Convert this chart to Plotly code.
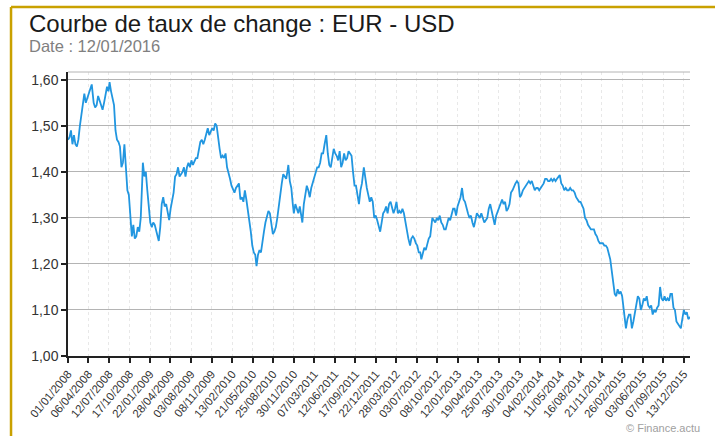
import plotly.graph_objects as go

dates = [
"2008-01-01","2008-01-08","2008-01-15","2008-01-22","2008-01-29","2008-02-05","2008-02-12","2008-02-19","2008-02-26",
"2008-03-04","2008-03-11","2008-03-18","2008-03-25","2008-04-01","2008-04-08","2008-04-15","2008-04-22","2008-05-01",
"2008-05-08","2008-05-15","2008-05-22","2008-05-29","2008-06-05","2008-06-12","2008-06-19","2008-06-26","2008-07-03",
"2008-07-10","2008-07-15","2008-07-22","2008-07-29","2008-08-05","2008-08-12","2008-08-19","2008-08-26","2008-09-02",
"2008-09-09","2008-09-16","2008-09-23","2008-09-30","2008-10-07","2008-10-14","2008-10-21","2008-10-28","2008-11-04",
"2008-11-11","2008-11-18","2008-11-25","2008-12-02","2008-12-09","2008-12-16","2008-12-19","2008-12-26",
"2009-01-02","2009-01-09","2009-01-16","2009-01-23","2009-01-30","2009-02-06","2009-02-13","2009-02-20","2009-02-27",
"2009-03-04","2009-03-11","2009-03-18","2009-03-25","2009-04-01","2009-04-08","2009-04-15","2009-04-22","2009-04-29",
"2009-05-06","2009-05-13","2009-05-20","2009-05-27","2009-06-03","2009-06-10","2009-06-17","2009-06-24","2009-07-01",
"2009-07-08","2009-07-15","2009-07-22","2009-07-29","2009-08-05","2009-08-12","2009-08-19","2009-08-26","2009-09-02",
"2009-09-09","2009-09-16","2009-09-23","2009-09-30","2009-10-07","2009-10-14","2009-10-21","2009-10-28","2009-11-04",
"2009-11-11","2009-11-18","2009-11-25","2009-12-02","2009-12-09","2009-12-16","2009-12-23","2009-12-30",
"2010-01-06","2010-01-13","2010-01-20","2010-01-27","2010-02-03","2010-02-10","2010-02-17","2010-02-24","2010-03-03",
"2010-03-10","2010-03-17","2010-03-24","2010-03-31","2010-04-07","2010-04-14","2010-04-21","2010-04-28","2010-05-05",
"2010-05-12","2010-05-19","2010-05-26","2010-06-02","2010-06-08","2010-06-15","2010-06-22","2010-06-29","2010-07-06",
"2010-07-13","2010-07-20","2010-07-27","2010-08-03","2010-08-10","2010-08-17","2010-08-24","2010-08-31","2010-09-07",
"2010-09-14","2010-09-21","2010-09-28","2010-10-05","2010-10-12","2010-10-19","2010-10-26","2010-11-02","2010-11-05",
"2010-11-12","2010-11-19","2010-11-26","2010-12-01","2010-12-08","2010-12-15","2010-12-22","2010-12-29",
"2011-01-05","2011-01-10","2011-01-17","2011-01-24","2011-01-31","2011-02-07","2011-02-14","2011-02-21","2011-02-28",
"2011-03-07","2011-03-14","2011-03-21","2011-03-28","2011-04-04","2011-04-11","2011-04-18","2011-04-25","2011-05-03",
"2011-05-10","2011-05-17","2011-05-24","2011-05-31","2011-06-07","2011-06-14","2011-06-21","2011-06-28","2011-07-05",
"2011-07-12","2011-07-19","2011-07-26","2011-08-02","2011-08-09","2011-08-16","2011-08-23","2011-08-30","2011-09-06",
"2011-09-13","2011-09-20","2011-09-27","2011-10-04","2011-10-11","2011-10-18","2011-10-27","2011-11-03","2011-11-10",
"2011-11-17","2011-11-24","2011-12-01","2011-12-08","2011-12-15","2011-12-22","2011-12-29",
"2012-01-05","2012-01-12","2012-01-19","2012-01-26","2012-02-02","2012-02-09","2012-02-16","2012-02-23","2012-03-01",
"2012-03-08","2012-03-15","2012-03-22","2012-03-29","2012-04-05","2012-04-12","2012-04-19","2012-04-26","2012-05-03",
"2012-05-10","2012-05-17","2012-05-24","2012-06-01","2012-06-07","2012-06-14","2012-06-21","2012-06-28","2012-07-05",
"2012-07-12","2012-07-19","2012-07-24","2012-07-31","2012-08-07","2012-08-14","2012-08-21","2012-08-28","2012-09-04",
"2012-09-11","2012-09-14","2012-09-21","2012-09-28","2012-10-05","2012-10-12","2012-10-19","2012-10-26","2012-11-02",
"2012-11-09","2012-11-16","2012-11-23","2012-11-30","2012-12-07","2012-12-14","2012-12-21","2012-12-28",
"2013-01-04","2013-01-11","2013-01-18","2013-01-25","2013-02-01","2013-02-08","2013-02-15","2013-02-22","2013-03-01",
"2013-03-08","2013-03-15","2013-03-22","2013-03-29","2013-04-05","2013-04-12","2013-04-19","2013-04-26","2013-05-03",
"2013-05-10","2013-05-17","2013-05-24","2013-05-31","2013-06-07","2013-06-14","2013-06-21","2013-06-28","2013-07-05",
"2013-07-12","2013-07-19","2013-07-26","2013-08-02","2013-08-09","2013-08-16","2013-08-23","2013-08-30","2013-09-06",
"2013-09-13","2013-09-20","2013-09-27","2013-10-04","2013-10-11","2013-10-18","2013-10-25","2013-11-01","2013-11-08",
"2013-11-15","2013-11-22","2013-11-29","2013-12-06","2013-12-13","2013-12-20","2013-12-27",
"2014-01-03","2014-01-10","2014-01-17","2014-01-24","2014-01-31","2014-02-07","2014-02-14","2014-02-21","2014-02-28",
"2014-03-07","2014-03-14","2014-03-21","2014-03-28","2014-04-04","2014-04-11","2014-04-18","2014-04-25","2014-05-02",
"2014-05-08","2014-05-15","2014-05-22","2014-05-29","2014-06-05","2014-06-12","2014-06-19","2014-06-26","2014-07-03",
"2014-07-10","2014-07-17","2014-07-24","2014-07-31","2014-08-07","2014-08-14","2014-08-21","2014-08-28","2014-09-04",
"2014-09-11","2014-09-18","2014-09-25","2014-10-02","2014-10-09","2014-10-16","2014-10-23","2014-10-30","2014-11-06",
"2014-11-13","2014-11-20","2014-11-27","2014-12-04","2014-12-11","2014-12-18","2014-12-25",
"2015-01-01","2015-01-08","2015-01-15","2015-01-22","2015-01-29","2015-02-05","2015-02-12","2015-02-19","2015-02-26",
"2015-03-05","2015-03-12","2015-03-16","2015-03-23","2015-03-30","2015-04-06","2015-04-13","2015-04-20","2015-04-27",
"2015-05-04","2015-05-11","2015-05-18","2015-05-25","2015-06-01","2015-06-08","2015-06-15","2015-06-22","2015-06-29",
"2015-07-06","2015-07-13","2015-07-20","2015-07-27","2015-08-03","2015-08-10","2015-08-17","2015-08-24","2015-08-31",
"2015-09-07","2015-09-14","2015-09-21","2015-09-28","2015-10-05","2015-10-12","2015-10-19","2015-10-26","2015-11-02",
"2015-11-09","2015-11-16","2015-11-23","2015-11-30","2015-12-03","2015-12-07","2015-12-14","2015-12-21","2015-12-28",
"2016-01-04","2016-01-12",
]

eur_usd = [
1.47,1.475,1.49,1.46,1.48,1.46,1.455,1.47,1.50,
1.52,1.54,1.57,1.55,1.56,1.575,1.58,1.59,1.55,
1.54,1.545,1.565,1.555,1.545,1.535,1.55,1.57,1.585,
1.575,1.595,1.575,1.56,1.545,1.49,1.47,1.465,1.455,
1.41,1.42,1.46,1.40,1.36,1.35,1.30,1.26,1.285,
1.255,1.26,1.28,1.27,1.30,1.38,1.42,1.39,
1.40,1.36,1.32,1.29,1.28,1.29,1.285,1.27,1.26,
1.25,1.28,1.33,1.345,1.325,1.33,1.31,1.295,1.32,
1.335,1.355,1.39,1.395,1.41,1.39,1.395,1.40,1.41,
1.39,1.41,1.42,1.41,1.425,1.415,1.425,1.43,1.43,
1.45,1.465,1.47,1.46,1.47,1.485,1.495,1.48,1.49,
1.495,1.49,1.505,1.50,1.47,1.45,1.43,1.435,
1.43,1.44,1.41,1.40,1.385,1.37,1.36,1.355,1.365,
1.37,1.375,1.34,1.345,1.335,1.36,1.34,1.32,1.30,
1.27,1.24,1.225,1.22,1.195,1.22,1.23,1.225,1.255,
1.27,1.29,1.30,1.315,1.31,1.285,1.265,1.27,1.28,
1.30,1.33,1.36,1.375,1.395,1.39,1.385,1.405,1.415,
1.38,1.365,1.33,1.31,1.33,1.32,1.31,1.325,
1.30,1.29,1.33,1.355,1.37,1.36,1.345,1.365,1.375,
1.39,1.40,1.41,1.41,1.42,1.44,1.44,1.46,1.48,
1.44,1.415,1.41,1.43,1.45,1.44,1.435,1.425,1.445,
1.41,1.42,1.44,1.425,1.43,1.445,1.44,1.435,1.40,
1.37,1.37,1.345,1.33,1.36,1.375,1.41,1.38,1.365,
1.35,1.335,1.345,1.335,1.30,1.305,1.295,
1.28,1.27,1.29,1.31,1.315,1.325,1.31,1.33,1.335,
1.32,1.31,1.32,1.335,1.31,1.315,1.31,1.32,1.31,
1.29,1.27,1.255,1.24,1.255,1.26,1.255,1.245,1.24,
1.225,1.225,1.21,1.225,1.235,1.23,1.245,1.255,1.26,
1.285,1.30,1.295,1.29,1.30,1.295,1.305,1.29,1.285,
1.275,1.275,1.29,1.30,1.295,1.31,1.32,1.32,
1.305,1.325,1.335,1.345,1.365,1.34,1.335,1.32,1.31,
1.30,1.305,1.29,1.28,1.295,1.31,1.305,1.30,1.31,
1.30,1.29,1.295,1.30,1.32,1.33,1.315,1.30,1.285,
1.305,1.315,1.325,1.335,1.34,1.33,1.335,1.315,1.32,
1.33,1.355,1.36,1.37,1.375,1.38,1.375,1.345,1.35,
1.36,1.365,1.37,1.375,1.38,1.375,1.38,
1.37,1.36,1.365,1.365,1.36,1.365,1.37,1.375,1.385,
1.385,1.38,1.38,1.385,1.38,1.385,1.38,1.385,1.39,
1.393,1.375,1.37,1.36,1.365,1.36,1.36,1.365,1.36,
1.36,1.355,1.345,1.34,1.335,1.335,1.325,1.32,1.30,
1.295,1.285,1.28,1.275,1.275,1.275,1.265,1.26,1.25,
1.245,1.245,1.245,1.24,1.24,1.235,1.225,
1.21,1.185,1.16,1.135,1.13,1.145,1.135,1.14,1.13,
1.10,1.065,1.06,1.08,1.09,1.09,1.06,1.075,1.095,
1.115,1.13,1.125,1.10,1.11,1.125,1.12,1.13,1.11,
1.105,1.11,1.09,1.10,1.095,1.105,1.11,1.15,1.125,
1.12,1.13,1.12,1.125,1.12,1.135,1.135,1.105,1.10,
1.075,1.07,1.065,1.06,1.07,1.085,1.10,1.09,1.095,
1.08,1.085,
]

tick_dates = [
"2008-01-01","2008-04-06","2008-07-12","2008-10-17","2009-01-22","2009-04-28","2009-08-03","2009-11-08",
"2010-02-13","2010-05-21","2010-08-25","2010-11-30","2011-03-07","2011-06-12","2011-09-17","2011-12-22",
"2012-03-28","2012-07-03","2012-10-08","2013-01-12","2013-04-19","2013-07-25","2013-10-30","2014-02-04",
"2014-05-11","2014-08-16","2014-11-21","2015-02-26","2015-06-03","2015-09-07","2015-12-13",
]
tick_labels = [
"01/01/2008","06/04/2008","12/07/2008","17/10/2008","22/01/2009","28/04/2009","03/08/2009","08/11/2009",
"13/02/2010","21/05/2010","25/08/2010","30/11/2010","07/03/2011","12/06/2011","17/09/2011","22/12/2011",
"28/03/2012","03/07/2012","08/10/2012","12/01/2013","19/04/2013","25/07/2013","30/10/2013","04/02/2014",
"11/05/2014","16/08/2014","21/11/2014","26/02/2015","03/06/2015","07/09/2015","13/12/2015",
]
y_ticks = [1.00, 1.10, 1.20, 1.30, 1.40, 1.50, 1.60]

FONT = "Liberation Sans, Arial, sans-serif"

fig = go.Figure()
fig.add_trace(go.Scatter(
    x=dates, y=eur_usd, mode="lines",
    line=dict(color="#2196e0", width=1.8),
    hoverinfo="x+y", showlegend=False,
))

gold = "#c9a100"
fig.update_layout(
    width=715, height=436,
    margin=dict(l=68, r=25, t=72, b=80),
    paper_bgcolor="white", plot_bgcolor="white",
    separators=", ",
    font=dict(family=FONT, color="#333"),
    showlegend=False,
    xaxis=dict(
        type="date", range=["2008-01-01", "2016-01-12"],
        tickvals=tick_dates, ticktext=tick_labels, tickangle=-50,
        tickfont=dict(size=11.5, color="#333"),
        ticks="outside", ticklen=5, tickcolor="#222", tickwidth=1.5,
        showline=True, linecolor="#222", linewidth=1.5,
        showgrid=True, gridcolor="#e8e8e8", griddash="dot", gridwidth=1,
        zeroline=False, fixedrange=True,
    ),
    yaxis=dict(
        range=[1.00, 1.617], tickvals=y_ticks, tickformat=".2f",
        tickfont=dict(size=14, color="#333"),
        ticks="outside", ticklen=5, tickcolor="#222", tickwidth=1.5,
        showline=True, linecolor="#222", linewidth=1.5,
        showgrid=True, gridcolor="#b4b4b4", gridwidth=1,
        zeroline=False, fixedrange=True,
    ),
    shapes=[
        dict(type="line", xref="paper", yref="paper", x0=0, x1=1, y0=1, y1=1,
             line=dict(color="#b4b4b4", width=1)),
        dict(type="line", xref="paper", yref="paper", x0=-0.0916, x1=1.1, y0=1.229, y1=1.229,
             line=dict(color=gold, width=2.5)),
        dict(type="line", xref="paper", yref="paper", x0=-0.0916, x1=-0.0916, y0=1.229, y1=-0.4,
             line=dict(color=gold, width=2.5)),
    ],
    annotations=[
        dict(text="Courbe de taux de change : EUR - USD", xref="paper", yref="paper",
             x=-0.066, y=1.1725, xanchor="left", yanchor="middle", showarrow=False,
             font=dict(size=24, color="#1a1a1a", family=FONT)),
        dict(text="Date : 12/01/2016", xref="paper", yref="paper",
             x=-0.066, y=1.0915, xanchor="left", yanchor="middle", showarrow=False,
             font=dict(size=16.5, color="#808080", family=FONT)),
        dict(text="© Finance.actu", xref="paper", yref="paper",
             x=1.02, y=-0.254, xanchor="right", yanchor="middle", showarrow=False,
             font=dict(size=11, color="#a0a0a0", family=FONT)),
    ],
)

fig.write_html("out.html", config={"displayModeBar": False},
               post_script="document.body.style.margin='0px';")
